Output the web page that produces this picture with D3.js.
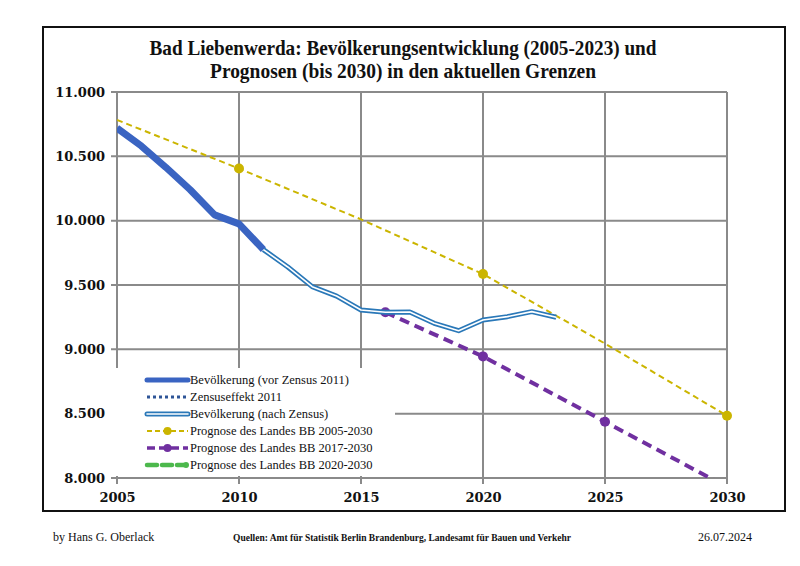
<!DOCTYPE html>
<html><head><meta charset="utf-8">
<script src="https://cdn.jsdelivr.net/npm/d3@7"></script>
<style>body{margin:0;background:#fff}svg{display:block}</style>
</head><body>
<svg id="c" width="800" height="566"></svg>
<script>
// ---- data ----
const preYears = [2005,2006,2007,2008,2009,2010,2011];
const preValues = [10720,10580,10415,10240,10045,9975,9775];
const zensusYears = [2011,2011];
const zensusValues = [9775,9775];
const postYears = [2011,2012,2013,2014,2015,2016,2017,2018,2019,2020,2021,2022,2023];
const postValues = [9775,9640,9487,9414,9306,9288,9290,9202,9145,9228,9254,9293,9249];
const prog05Years = [2005,2010,2015,2020,2025,2030];
const prog05Values = [10783,10405,10010,9585,9045,8484];
const prog05Markers = [2010,2020,2030];
const prog17Years = [2016,2020,2025,2030];
const prog17Values = [9288,8945,8437,7930];
const prog20Years = [];
const prog20Values = [];
const xTicks = [2005,2010,2015,2020,2025,2030];
const yTicks = [8000,8500,9000,9500,10000,10500,11000];
const legendLabels = ["Bevölkerung (vor Zensus 2011)","Zensuseffekt 2011","Bevölkerung (nach Zensus)",
  "Prognose des Landes BB 2005-2030","Prognose des Landes BB 2017-2030","Prognose des Landes BB 2020-2030"];

const svg = d3.select("#c");
const x = d3.scaleLinear().domain([2005,2030]).range([117,727]);
const y = d3.scaleLinear().domain([8000,11000]).range([478,92]);
const zip = (xs,vs)=>xs.map((d,i)=>[d,vs[i]]);
const line = d3.line().x(d=>x(d[0])).y(d=>y(d[1]));

// frame
svg.append("rect").attr("x",43).attr("y",27).attr("width",742).attr("height",484)
  .attr("fill","#fff").attr("stroke","#111").attr("stroke-width",2);

// title
const title = svg.append("text").attr("text-anchor","middle").attr("font-family","Liberation Serif")
  .attr("font-size",21).attr("font-weight","bold").attr("fill","#111");
title.append("tspan").attr("x",403).attr("y",55).attr("textLength",507).attr("lengthAdjust","spacingAndGlyphs")
  .text("Bad Liebenwerda:  Bevölkerungsentwicklung (2005-2023) und");
title.append("tspan").attr("x",403).attr("y",78).attr("textLength",386).attr("lengthAdjust","spacingAndGlyphs")
  .text("Prognosen (bis 2030) in den aktuellen Grenzen");

// grid
const grid = svg.append("g").attr("stroke","#8a8a8a").attr("stroke-width",2);
yTicks.forEach(t=>{
  grid.append("line").attr("x1",x(2005)-6).attr("x2",x(2030)).attr("y1",y(t)).attr("y2",y(t));
});
xTicks.forEach(t=>{
  grid.append("line").attr("x1",x(t)).attr("x2",x(t)).attr("y1",y(11000)).attr("y2",y(8000)+6);
});

// axis labels via d3 axes
const yAxis = svg.append("g").attr("transform",`translate(${x(2005)-6},0)`)
  .call(d3.axisLeft(y).tickValues(yTicks).tickSize(0).tickPadding(6)
    .tickFormat(d=>d3.format(",")(d).replace(/,/g,".")));
yAxis.select(".domain").remove();
yAxis.selectAll("text").attr("font-family","DejaVu Serif").attr("font-weight","bold")
  .attr("font-size",13).attr("fill","#111");
const xAxis = svg.append("g").attr("transform",`translate(0,${y(8000)+6})`)
  .call(d3.axisBottom(x).tickValues(xTicks).tickSize(0).tickPadding(9).tickFormat(d3.format("d")));
xAxis.select(".domain").remove();
xAxis.selectAll("text").attr("font-family","DejaVu Serif").attr("font-weight","bold")
  .attr("font-size",13).attr("fill","#111");

// clip
svg.append("clipPath").attr("id","plot").append("rect")
  .attr("x",x(2005)).attr("y",y(11000)-10).attr("width",x(2030)-x(2005)+10).attr("height",y(8000)-y(11000)+10);
const plot = svg.append("g").attr("clip-path","url(#plot)");

// legend background
const lg = svg.append("g");
lg.append("rect").attr("x",110).attr("y",368).attr("width",285).attr("height",108).attr("fill","#fff");

// series
const yellow="#cbb500", purple="#7030a0", blue="#3a64c2", blue2="#2a78b8", green="#4cb84c";
plot.append("path").datum(zip(prog05Years,prog05Values)).attr("d",line).attr("fill","none")
  .attr("stroke",yellow).attr("stroke-width",2).attr("stroke-dasharray","6,4");
plot.selectAll(".m05").data(zip(prog05Years,prog05Values).filter(d=>prog05Markers.includes(d[0])))
  .join("circle").attr("cx",d=>x(d[0])).attr("cy",d=>y(d[1])).attr("r",5).attr("fill",yellow);
plot.append("path").datum(zip(prog17Years,prog17Values)).attr("d",line).attr("fill","none")
  .attr("stroke",purple).attr("stroke-width",4).attr("stroke-dasharray","10,6");
plot.selectAll(".m17").data(zip(prog17Years,prog17Values))
  .join("circle").attr("cx",d=>x(d[0])).attr("cy",d=>y(d[1])).attr("r",5).attr("fill",purple);
plot.append("path").datum(zip(prog20Years,prog20Values)).attr("d",line).attr("fill","none")
  .attr("stroke",green).attr("stroke-width",5).attr("stroke-dasharray","12,6");
plot.append("path").datum(zip(preYears,preValues)).attr("d",line).attr("fill","none")
  .attr("stroke",blue).attr("stroke-width",7).attr("stroke-linejoin","round");
plot.append("path").datum(zip(zensusYears,zensusValues)).attr("d",line).attr("fill","none")
  .attr("stroke","#2e5597").attr("stroke-width",3).attr("stroke-dasharray","3,3");
plot.append("path").datum(zip(postYears,postValues)).attr("d",line).attr("fill","none")
  .attr("stroke",blue2).attr("stroke-width",5).attr("stroke-linejoin","round");
plot.append("path").datum(zip(postYears,postValues)).attr("d",line).attr("fill","none")
  .attr("stroke","#fff").attr("stroke-width",1.6).attr("stroke-linejoin","round");

// legend
const ly = d3.scalePoint().domain(legendLabels).range([380,465]);
const sx0=147, sx1=188;
legendLabels.forEach((lab,i)=>{
  const yy = ly(lab);
  const g = lg.append("g");
  if(i===0) g.append("line").attr("x1",sx0).attr("x2",sx1).attr("y1",yy).attr("y2",yy).attr("stroke",blue).attr("stroke-width",5).attr("stroke-linecap","round");
  if(i===1) g.append("line").attr("x1",sx0).attr("x2",sx1).attr("y1",yy).attr("y2",yy).attr("stroke","#2e5597").attr("stroke-width",3).attr("stroke-dasharray","3,3");
  if(i===2){ g.append("line").attr("x1",sx0).attr("x2",sx1).attr("y1",yy).attr("y2",yy).attr("stroke",blue2).attr("stroke-width",5).attr("stroke-linecap","round");
    g.append("line").attr("x1",sx0).attr("x2",sx1).attr("y1",yy).attr("y2",yy).attr("stroke","#fff").attr("stroke-width",1.6).attr("stroke-linecap","round");}
  if(i===3){ g.append("line").attr("x1",sx0).attr("x2",sx1).attr("y1",yy).attr("y2",yy).attr("stroke",yellow).attr("stroke-width",2).attr("stroke-dasharray","5,3");
    g.append("circle").attr("cx",(sx0+sx1)/2).attr("cy",yy).attr("r",4).attr("fill",yellow);}
  if(i===4){ g.append("line").attr("x1",sx0).attr("x2",sx1).attr("y1",yy).attr("y2",yy).attr("stroke",purple).attr("stroke-width",3.5).attr("stroke-dasharray","8,4");
    g.append("circle").attr("cx",(sx0+sx1)/2).attr("cy",yy).attr("r",4).attr("fill",purple);}
  if(i===5){ g.append("line").attr("x1",sx0).attr("x2",sx1-4).attr("y1",yy).attr("y2",yy).attr("stroke",green).attr("stroke-width",4.5).attr("stroke-dasharray","10,5").attr("stroke-linecap","round");
    g.append("circle").attr("cx",sx1-2).attr("cy",yy).attr("r",3).attr("fill",green);}
  g.append("text").attr("x",190).attr("y",yy+4).attr("font-family","Liberation Serif").attr("font-size",12.5)
    .attr("fill","#111").text(lab);
});

// footer
const ft = svg.append("g").attr("font-family","Liberation Serif").attr("fill","#111");
ft.append("text").attr("x",53).attr("y",541).attr("font-size",12).text("by Hans G. Oberlack");
ft.append("text").attr("x",402).attr("y",541).attr("text-anchor","middle").attr("font-size",10.5).attr("font-weight","bold")
  .attr("textLength",338).attr("lengthAdjust","spacingAndGlyphs")
  .text("Quellen: Amt für Statistik Berlin Brandenburg, Landesamt für Bauen und Verkehr");
ft.append("text").attr("x",752).attr("y",541).attr("text-anchor","end").attr("font-size",12).text("26.07.2024");
</script>
</body></html>
